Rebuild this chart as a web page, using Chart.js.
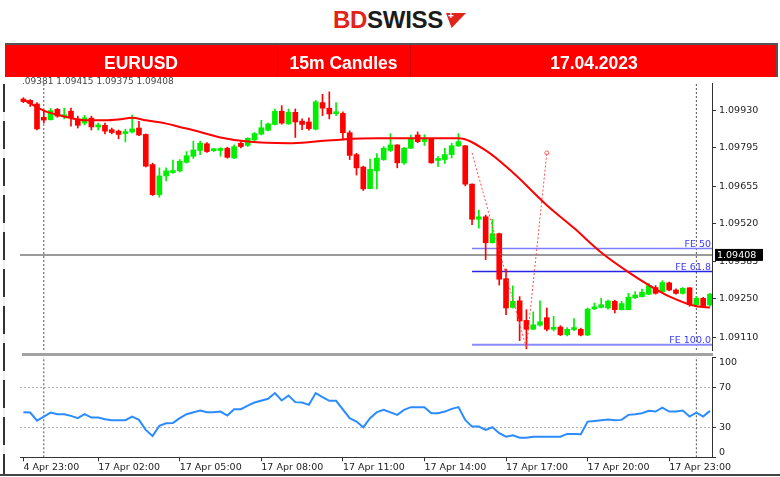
<!DOCTYPE html>
<html>
<head>
<meta charset="utf-8">
<script src="https://cdn.jsdelivr.net/npm/chart.js@4.4.0/dist/chart.umd.min.js"></script>
<style>
  body { margin:0; width:780px; height:477px; background:#fff; position:relative; overflow:hidden; font-family:"Liberation Sans", Arial, sans-serif; }
  .abs { position:absolute; }
  #logo { left:333px; top:6px; font-weight:bold; font-size:24px; letter-spacing:-0.3px; line-height:28px; }
  #logo .bd { color:#e2231a; }
  #logo .sw { color:#1b1b1b; }
  #mark { left:446px; top:13px; width:20px; height:15px; background:#e2231a; clip-path:polygon(0 0,100% 0,28% 100%); }
  #plus { left:448px; top:10px; color:#fff; font-size:10px; font-weight:bold; }
  #banner { left:5px; top:43px; width:773px; height:34px; background:#ff0000; border-top:2px solid #555; box-sizing:border-box; z-index:3; }
  .cell { top:43px; height:34px; line-height:40px; color:#fff; font-weight:bold; font-size:17.5px; text-align:center; z-index:4; }
  .div { top:45px; width:1px; height:32px; background:#d00000; z-index:4; }
  #info { left:22px; top:76px; font-family:"DejaVu Sans"; font-size:9px; color:#444; z-index:1; }
  canvas { position:absolute; left:0; }
  #main { top:78px; }
  #rsi { top:355px; }
  #sep { left:22px; top:353px; width:691px; height:3px; background:#a2a2a2; z-index:2; }
  #leftframe { left:3px; top:84px; width:2px; height:390px; background:repeating-linear-gradient(to bottom,#333 0 28px,#f0f0f0 28px 37px); }
  #bottom { left:0; top:474px; width:780px; height:2px; background:#444; }
  #rightedge { left:776px; top:43px; width:2px; height:34px; background:#555; z-index:5; }
</style>
</head>
<body>
<div id="logo" class="abs"><span class="bd">BD</span><span class="sw">SWISS</span></div>
<div id="mark" class="abs"></div>
<div id="plus" class="abs">+</div>

<div id="banner" class="abs"></div>
<div class="abs cell" style="left:5px;width:272px;">EURUSD</div>
<div class="abs cell" style="left:277px;width:133px;">15m Candles</div>
<div class="abs cell" style="left:410px;width:368px;">17.04.2023</div>
<div class="abs div" style="left:277px;"></div>
<div class="abs div" style="left:410px;"></div>
<div id="rightedge" class="abs"></div>
<div id="info" class="abs">.09381 1.09415 1.09375 1.09408</div>

<canvas id="main" width="780" height="277"></canvas>
<canvas id="rsi" width="780" height="122"></canvas>
<div id="sep" class="abs"></div>
<div id="leftframe" class="abs"></div>
<div id="bottom" class="abs"></div>

<script>
// 15m candles, index 0 = 14 Apr 23:00
var opens = [1.09972,1.09967,1.09954,1.09906,1.09897,1.09935,1.09908,1.09928,1.09900,1.09885,
  1.09903,1.09871,1.09877,1.09861,1.09856,1.09847,1.09853,1.09867,1.09844,1.09735,
  1.09626,1.09694,1.09706,1.09712,1.09743,1.09765,1.09786,1.09810,1.09785,1.09786,
  1.09794,1.09759,1.09812,1.09804,1.09824,1.09845,1.09859,1.09880,1.09928,1.09882,
  1.09924,1.09892,1.09889,1.09863,1.09959,1.09939,1.09919,1.09920,1.09850,1.09771,
  1.09726,1.09648,1.09712,1.09753,1.09786,1.09806,1.09741,1.09794,1.09842,1.09818,
  1.09828,1.09750,1.09753,1.09771,1.09803,1.09803,1.09664,1.09537,1.09546,1.09452,
  1.09485,1.09322,1.09218,1.09242,1.09171,1.09139,1.09154,1.09181,1.09139,1.09147,
  1.09119,1.09138,1.09139,1.09118,1.09213,1.09218,1.09216,1.09240,1.09210,1.09210,
  1.09253,1.09257,1.09266,1.09290,1.09275,1.09307,1.09281,1.09269,1.09289,1.09228,
  1.09251,1.09227];
var highs = [1.09977,1.09970,1.09959,1.09928,1.09938,1.09938,1.09939,1.09939,1.09910,1.09913,
  1.09910,1.09885,1.09885,1.09867,1.09860,1.09863,1.09914,1.09891,1.09846,1.09740,
  1.09723,1.09723,1.09751,1.09753,1.09782,1.09820,1.09820,1.09814,1.09793,1.09796,
  1.09798,1.09806,1.09818,1.09832,1.09851,1.09895,1.09885,1.09936,1.09948,1.09936,
  1.09936,1.09900,1.09904,1.09967,1.09989,1.09998,1.09959,1.09926,1.09857,1.09776,
  1.09729,1.09755,1.09775,1.09800,1.09847,1.09807,1.09797,1.09842,1.09853,1.09843,
  1.09830,1.09765,1.09794,1.09812,1.09847,1.09804,1.09665,1.09570,1.09552,1.09537,
  1.09487,1.09357,1.09296,1.09257,1.09210,1.09202,1.09242,1.09216,1.09186,1.09152,
  1.09145,1.09178,1.09143,1.09216,1.09234,1.09251,1.09245,1.09244,1.09240,1.09269,
  1.09275,1.09284,1.09305,1.09297,1.09315,1.09310,1.09285,1.09290,1.09290,1.09258,
  1.09255,1.09269];
var lows = [1.09959,1.09945,1.09860,1.09885,1.09896,1.09906,1.09900,1.09874,1.09867,1.09878,
  1.09860,1.09860,1.09846,1.09846,1.09828,1.09817,1.09849,1.09839,1.09726,1.09623,
  1.09617,1.09676,1.09703,1.09708,1.09740,1.09757,1.09771,1.09779,1.09782,1.09765,
  1.09758,1.09756,1.09795,1.09800,1.09818,1.09842,1.09857,1.09878,1.09881,1.09880,
  1.09833,1.09861,1.09859,1.09860,1.09912,1.09900,1.09912,1.09824,1.09753,1.09697,
  1.09641,1.09647,1.09647,1.09750,1.09782,1.09723,1.09735,1.09792,1.09814,1.09804,
  1.09740,1.09727,1.09739,1.09759,1.09800,1.09658,1.09517,1.09505,1.09391,1.09451,
  1.09299,1.09192,1.09216,1.09098,1.09068,1.09138,1.09150,1.09133,1.09133,1.09116,
  1.09115,1.09134,1.09115,1.09116,1.09210,1.09216,1.09212,1.09198,1.09209,1.09209,
  1.09250,1.09255,1.09264,1.09266,1.09271,1.09278,1.09266,1.09266,1.09222,1.09223,
  1.09220,1.09223];
var closes = [1.09963,1.09956,1.09864,1.09896,1.09930,1.09910,1.09915,1.09904,1.09877,1.09904,
  1.09871,1.09877,1.09856,1.09851,1.09844,1.09853,1.09864,1.09842,1.09729,1.09626,
  1.09694,1.09712,1.09712,1.09747,1.09767,1.09788,1.09812,1.09782,1.09792,1.09793,
  1.09761,1.09800,1.09800,1.09830,1.09847,1.09868,1.09882,1.09928,1.09885,1.09924,
  1.09889,1.09880,1.09865,1.09962,1.09939,1.09918,1.09922,1.09850,1.09768,1.09723,
  1.09647,1.09718,1.09758,1.09794,1.09806,1.09741,1.09794,1.09830,1.09818,1.09828,
  1.09741,1.09754,1.09771,1.09803,1.09818,1.09664,1.09537,1.09546,1.09452,1.09485,
  1.09320,1.09216,1.09240,1.09169,1.09139,1.09155,1.09166,1.09139,1.09145,1.09119,
  1.09139,1.09143,1.09118,1.09212,1.09219,1.09228,1.09241,1.09210,1.09232,1.09255,
  1.09263,1.09273,1.09297,1.09269,1.09308,1.09281,1.09269,1.09287,1.09228,1.09251,
  1.09222,1.09266];

// moving average (read at bar indices)
var maIdx = [0,3,6,9,12,14,16,18,21,23,26,29,33,39,43,47,52,64,68,72,77,81,85,89,92,95,99,101];
var maVals = [1.09970,1.09930,1.09909,1.09895,1.09895,1.09898,1.09904,1.09895,1.09883,1.09871,
  1.09853,1.09833,1.09818,1.09812,1.09818,1.09826,1.09830,1.09830,1.09786,1.09706,
  1.09588,1.09505,1.09417,1.09346,1.09299,1.09258,1.09222,1.09218];

// RSI
var rsiIdx = [0,1,2,3,4,5,6,7,8,9,10,11,12,13,15,16,17,18,19,20,21,22,23,24,26,27,28,29,30,31,32,33,34,
  36,37,38,39,40,41,42,43,44,45,46,48,49,50,51,52,53,55,56,57,59,60,61,62,63,64,65,66,67,68,69,70,71,72,
  73,74,75,77,79,80,81,82,83,84,85,86,87,88,89,90,91,92,93,94,95,96,97,98,99,100,101];
var rsiVals = [45.0,44.6,36.6,40.6,44.6,43.0,43.0,41.3,39.0,43.0,39.6,39.6,38.0,37.0,
  37.0,40.6,37.3,27.3,21.3,31.3,34.0,34.3,39.0,43.0,
  46.6,45.0,45.0,45.6,41.6,48.0,48.0,51.6,54.6,
  58.3,64.0,56.6,61.6,55.0,54.6,52.3,64.0,60.0,56.3,56.3,
  39.0,35.6,30.0,39.0,45.0,47.3,
  42.3,47.3,50.0,
  50.0,44.0,44.0,45.6,48.3,50.0,37.3,30.6,30.6,27.3,30.0,24.0,20.6,22.0,19.6,19.6,20.6,
  20.6,
  20.6,23.3,23.3,23.0,35.6,36.3,37.0,37.6,37.0,37.3,42.3,43.0,44.0,46.3,45.6,49.6,45.6,45.6,46.6,40.6,44.6,40.6,46.3];

// fibo expansion
var fibIdx = [66, 74, 77];
var fibVals = [1.09777, 1.09071, 1.09777];
var feNames = ['FE 50', 'FE 61.8', 'FE 100.0'];
var feLevels = [1.09431, 1.09348, 1.09083];
var feStart = 66;
var bidPrice = 1.09408;
var daySeps = [3, 99];

var priceTicks = [1.09110, 1.09250, 1.09385, 1.09520, 1.09655, 1.09795, 1.09930];
var rsiTicks = [0, 30, 70, 100];
var timeIdx = [0, 11, 23, 35, 47, 59, 71, 83, 95];
var timeLabels = ['4 Apr 23:00', '17 Apr 02:00', '17 Apr 05:00', '17 Apr 08:00', '17 Apr 11:00',
  '17 Apr 14:00', '17 Apr 17:00', '17 Apr 20:00', '17 Apr 23:00'];

var xMin = -0.5, xMax = 101.3;
var yMin = 1.09064, yMax = 1.10030;

Chart.defaults.font.family = '"DejaVu Sans", Verdana, sans-serif';
Chart.defaults.font.size = 9.5;
Chart.defaults.color = '#222';

var UP = '#00ee00', DOWN = '#ff0000';
var candleCol = opens.map(function (o, i) { return closes[i] >= o ? UP : DOWN; });

var lineSet = function (pts, color, width, dash, order) {
    return { type: 'line', data: pts, borderColor: color, borderWidth: width, borderDash: dash || [],
        pointRadius: 0, fill: false, order: order };
};

var datasets = [];
datasets.push({ type: 'line', data: maIdx.map(function (x, k) { return { x: x, y: maVals[k] }; }),
    borderColor: '#ff0000', borderWidth: 2, pointRadius: 0, cubicInterpolationMode: 'monotone', order: 0 });
var fibSet = lineSet(fibIdx.map(function (x, k) { return { x: x, y: fibVals[k] }; }), '#ff5050', 1, [2, 2], 1);
fibSet.pointRadius = [0, 0, 2];
fibSet.pointBorderColor = '#ff6060';
fibSet.pointBorderWidth = 1;
fibSet.pointBackgroundColor = 'rgba(0,0,0,0)';
datasets.push(fibSet);
datasets.push({ type: 'bar', data: opens.map(function (o, i) { return { x: i, y: [o, closes[i]] }; }),
    backgroundColor: candleCol, barThickness: 5, minBarLength: 2, grouped: false, order: 2 });
datasets.push({ type: 'bar', data: lows.map(function (l, i) { return { x: i, y: [l, highs[i]] }; }),
    backgroundColor: candleCol, barThickness: 1, grouped: false, order: 3 });
var feColors = ['#7c7cff', '#2626e6', '#8a8aff'];
var feWidths = [1.5, 1.5, 2];
feLevels.forEach(function (v, k) {
    datasets.push(lineSet([{ x: feStart, y: v }, { x: xMax, y: v }], feColors[k], feWidths[k], null, 4));
});
datasets.push(lineSet([{ x: xMin, y: bidPrice }, { x: xMax, y: bidPrice }], '#9a9a9a', 2, null, 4));
daySeps.forEach(function (s) {
    datasets.push(lineSet([{ x: s, y: yMin }, { x: s, y: yMax }], '#555', 1, [2, 2], 5));
});

var overlay = {
    id: 'overlay',
    afterDatasetsDraw: function (chart) {
        var ctx = chart.ctx, area = chart.chartArea, y = chart.scales.y;
        ctx.save();
        ctx.font = '9.5px "DejaVu Sans"';
        ctx.fillStyle = '#3a3aff';
        ctx.textAlign = 'right';
        ctx.textBaseline = 'alphabetic';
        feLevels.forEach(function (v, k) {
            ctx.fillText(feNames[k], area.right - 1, y.getPixelForValue(v) - 1.5);
        });
        ctx.restore();
    },
    afterDraw: function (chart) {
        var ctx = chart.ctx, area = chart.chartArea, y = chart.scales.y;
        var py = y.getPixelForValue(bidPrice);
        ctx.save();
        ctx.fillStyle = '#000';
        ctx.fillRect(area.right + 3, py - 6, 48, 12);
        ctx.fillStyle = '#fff';
        ctx.font = '9.5px "DejaVu Sans"';
        ctx.textAlign = 'left';
        ctx.textBaseline = 'middle';
        ctx.fillText(bidPrice.toFixed(5), area.right + 5, py + 0.5);
        ctx.restore();
    }
};

new Chart(document.getElementById('main'), {
    type: 'line',
    data: { datasets: datasets },
    options: {
        responsive: false,
        animation: false,
        layout: { padding: { left: 20, top: 2, bottom: 2, right: 0 } },
        plugins: { legend: { display: false }, tooltip: { enabled: false } },
        scales: {
            x: { type: 'linear', min: xMin, max: xMax, offset: false, display: false },
            y: {
                position: 'right', min: yMin, max: yMax,
                afterBuildTicks: function (s) { s.ticks = priceTicks.map(function (v) { return { value: v }; }); },
                afterFit: function (s) { s.width = 68; s.paddingTop = 0; s.paddingBottom = 0; },
                ticks: { padding: 3, callback: function (v) { return v.toFixed(5); } },
                grid: { drawOnChartArea: false, tickLength: 4, tickColor: '#333' },
                border: { color: '#333' }
            }
        }
    },
    plugins: [overlay]
});

var rsiSets = [];
rsiSets.push({ data: rsiIdx.map(function (x, k) { return { x: x, y: rsiVals[k] }; }),
    borderColor: '#2b8cff', borderWidth: 2, pointRadius: 0, order: 0 });
daySeps.forEach(function (s) {
    rsiSets.push(lineSet([{ x: s, y: 0 }, { x: s, y: 100 }], '#555', 1, [2, 2], 5));
});

// RSI scale labels: the end labels sit just inside the panel, like the terminal does
var rsiLabels = {
    id: 'rsiLabels',
    afterDraw: function (chart) {
        var ctx = chart.ctx, area = chart.chartArea, y = chart.scales.y;
        ctx.save();
        ctx.font = '9.5px "DejaVu Sans"';
        ctx.fillStyle = '#222';
        ctx.textAlign = 'left';
        ctx.textBaseline = 'middle';
        rsiTicks.forEach(function (v) {
            var py = Math.min(Math.max(y.getPixelForValue(v), area.top + 6), area.bottom - 5);
            ctx.fillText(String(v), area.right + 7, py);
        });
        ctx.restore();
    }
};

new Chart(document.getElementById('rsi'), {
    type: 'line',
    data: { datasets: rsiSets },
    options: {
        responsive: false,
        animation: false,
        layout: { padding: { left: 20, top: 2, bottom: 0, right: 0 } },
        plugins: { legend: { display: false }, tooltip: { enabled: false } },
        scales: {
            x: {
                type: 'linear', min: xMin, max: xMax, offset: false,
                afterBuildTicks: function (s) { s.ticks = timeIdx.map(function (v) { return { value: v }; }); },
                afterFit: function (s) { s.height = 19.7; s.paddingLeft = 0; s.paddingRight = 0; },
                ticks: { autoSkip: false, maxRotation: 0, align: 'start', padding: 1,
                    callback: function (v) { return timeLabels[timeIdx.indexOf(v)]; } },
                grid: { drawOnChartArea: false, tickLength: 4, tickColor: '#333' },
                border: { color: '#333' }
            },
            y: {
                position: 'right', min: 0, max: 100,
                afterBuildTicks: function (s) { s.ticks = rsiTicks.map(function (v) { return { value: v }; }); },
                afterFit: function (s) { s.width = 68; s.paddingTop = 0; s.paddingBottom = 0; },
                ticks: { padding: 3, color: 'rgba(0,0,0,0)' },
                grid: {
                    color: function (c) { return (c.tick && (c.tick.value === 30 || c.tick.value === 70)) ? '#b4b4b4' : 'rgba(0,0,0,0)'; },
                    tickLength: 4, tickColor: '#333'
                },
                border: { color: '#333', dash: [2, 2] }
            }
        }
    },
    plugins: [rsiLabels]
});
</script>
</body>
</html>
